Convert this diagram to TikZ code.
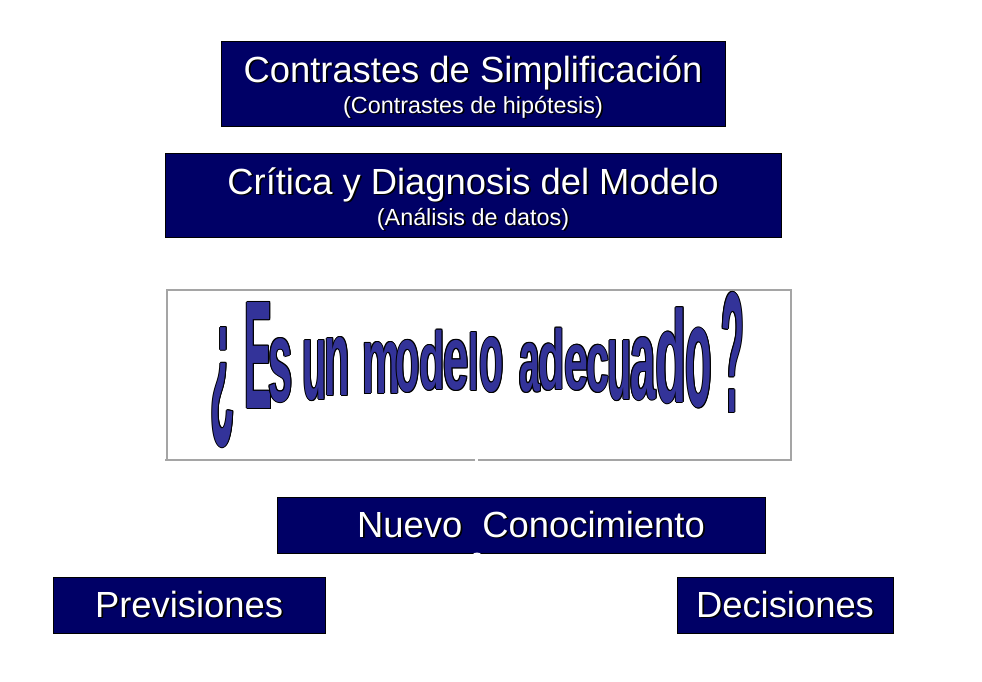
\documentclass[tikz,border=0pt]{standalone}
\usepackage{fontspec}
\setmainfont{Liberation Sans}
\usepackage{graphicx}
\definecolor{navy}{RGB}{0,0,102}
\definecolor{wordblue}{RGB}{51,51,153}
\definecolor{framegray}{RGB}{165,165,165}
\newcommand\shadowed[1]{\makebox[0pt][l]{\kern1pt\raisebox{-1pt}{\textcolor{black}{#1}}}#1}
\begin{document}
\begin{tikzpicture}[x=0.02cm, y=-0.02cm,
  navybox/.style={draw=black, fill=navy, inner sep=0, text=white, font=\fontsize{20.7}{24}\selectfont},
  titletext/.style={anchor=base, inner sep=0, text=white, font=\fontsize{20.7}{24}\selectfont},
  subtext/.style={anchor=base, inner sep=0, text=white, font=\fontsize{13.3}{16}\selectfont},
  letter/.style={anchor=north, inner sep=0, font=\bfseries}]
\useasboundingbox (0,0) rectangle (982,681);
\fill[white] (0,0) rectangle (982,681);
% hypothesis tests
\node[navybox, minimum width=10.08cm, minimum height=1.7cm] (simpl) at (473,83.5) {};
\node[titletext] (simplT) at (473,82) {\shadowed{Contrastes de Simplificación}};
\node[subtext] (simplS) at (473,113) {\shadowed{(Contrastes de hipótesis)}};
% data analysis
\node[navybox, minimum width=12.32cm, minimum height=1.68cm] (critica) at (473,195) {};
\node[titletext] (criticaT) at (473,194) {\shadowed{Crítica y Diagnosis del Modelo}};
\node[subtext] (criticaS) at (473,225) {\shadowed{(Análisis de datos)}};
% question frame
\draw[framegray, line width=0.9pt] (475,460) -- (165,460) (167,460) -- (167,290) -- (791,290) -- (791,460) -- (478,460);
\foreach \ch/\xc/\yt/\yb/\w in {¿/223/327/447/21, E/258.5/302/408/24, s/280.5/338/402/21,
    u/315/340/400/21, n/337.5/337/395/22, m/381/342/393/33, o/408/340/392/21,
    d/432.5/330/390/22, e/456/340/390/22, l/474/332/390/9, o/492/337/392/21,
    a/530/343/392/18, d/551.5/328/390/23, e/577/345/390/21, c/597.5/345/392/20,
    u/620/340/400/21, a/643/337/400/22, d/671.5/307/403/27, o/699/328/408/23,
    ?/732.5/292/412/20}{
  \pgfmathsetmacro\lw{\w*0.02*1.15}
  \pgfmathsetmacro\lh{(\yb-\yt)*0.02}
  \foreach \dx/\dy in {-1/0,1/0,0/-1,0/1,-.7/-.7,.7/-.7,-.7/.7,.7/.7}
    \node[letter, text=black] at (\xc+\dx,\yt+\dy) {\resizebox*{\lw cm}{\lh cm}{\ch}};
  \node[letter, text=wordblue] at (\xc,\yt) {\resizebox*{\lw cm}{\lh cm}{\ch}};
}
% outcomes
\node[navybox, minimum width=9.76cm, minimum height=1.12cm] (nuevo) at (521,525) {\hspace*{0.4cm}\shadowed{Nuevo~~Conocimiento}};
\fill[white] (477,559) circle (0.13cm);
\node[navybox, minimum width=5.44cm, minimum height=1.12cm] (prev) at (189,605) {\shadowed{Previsiones}};
\node[navybox, minimum width=4.32cm, minimum height=1.12cm] (decis) at (785,605) {\shadowed{Decisiones}};
\end{tikzpicture}
\end{document}
